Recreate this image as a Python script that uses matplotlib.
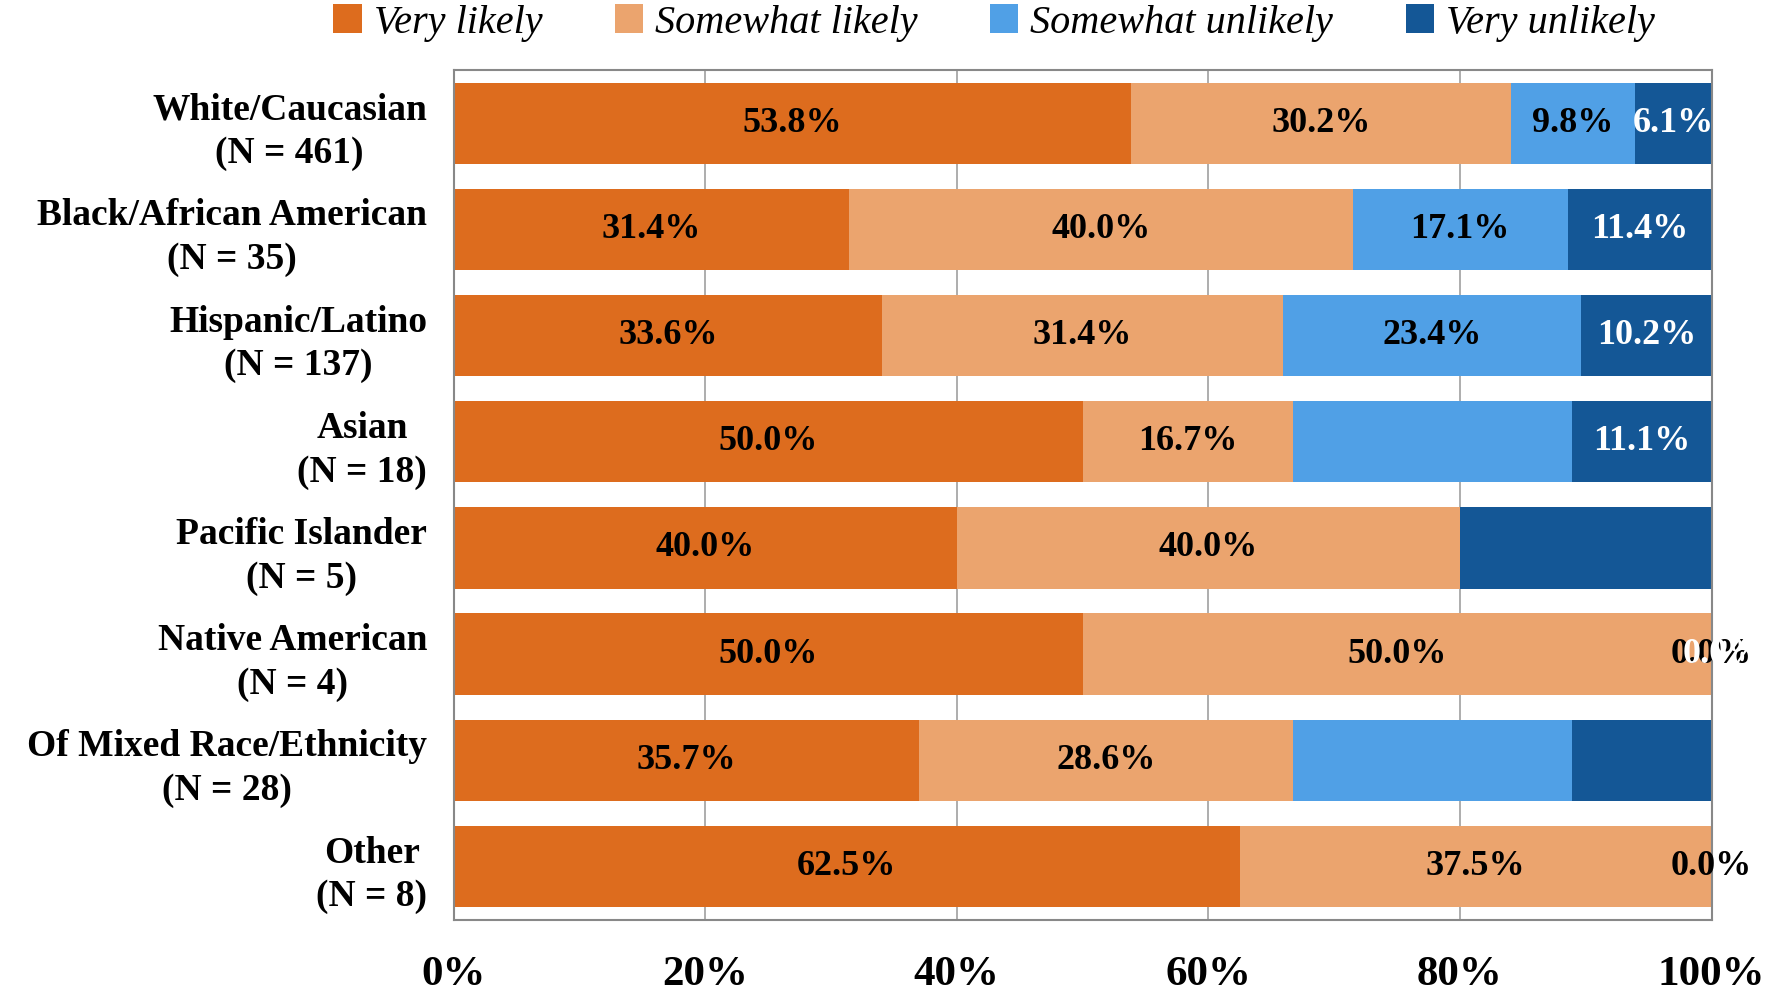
import matplotlib
matplotlib.use("Agg")
import matplotlib.pyplot as plt
import numpy as np

plt.rcParams["font.family"] = ["Liberation Serif", "DejaVu Serif"]

groups = [
    "White/Caucasian\n(N = 461)",
    "Black/African American\n(N = 35)",
    "Hispanic/Latino\n(N = 137)",
    "Asian\n(N = 18)",
    "Pacific Islander\n(N = 5)",
    "Native American\n(N = 4)",
    "Of Mixed Race/Ethnicity\n(N = 28)",
    "Other\n(N = 8)",
]
series = ["Very likely", "Somewhat likely", "Somewhat unlikely", "Very unlikely"]
very_likely = [53.8, 31.4, 33.6, 50.0, 40.0, 50.0, 35.7, 62.5]
somewhat_likely = [30.2, 40.0, 31.4, 16.7, 40.0, 50.0, 28.6, 37.5]
somewhat_unlikely = [9.8, 17.1, 23.4, 22.2, 0.0, 0.0, 21.4, 0.0]
very_unlikely = [6.1, 11.4, 10.2, 11.1, 20.0, 0.0, 10.7, 0.0]

# which data labels Excel actually showed
show_labels = [
    [1, 1, 1, 1, 1, 1, 1, 1],
    [1, 1, 1, 1, 1, 1, 1, 1],
    [1, 1, 1, 0, 0, 1, 0, 1],
    [1, 1, 1, 1, 0, 1, 0, 0],
]

colors = ["#DD6C1E", "#EBA46E", "#50A0E6", "#145796"]
text_colors = ["black", "black", "black", "white"]

data = np.array([very_likely, somewhat_likely, somewhat_unlikely, very_unlikely])
totals = data.sum(axis=0)
pct = data / totals * 100  # 100% stacked

fig = plt.figure(figsize=(17.69, 9.97), dpi=100)
ax = fig.add_axes([0.2564, 0.0777, 0.7111, 0.852])

y = np.arange(len(groups))
left = np.zeros(len(groups))
for i, name in enumerate(series):
    ax.barh(y, pct[i], left=left, height=0.765, color=colors[i], label=name, zorder=2)
    for j in range(len(groups)):
        if show_labels[i][j]:
            xc = left[j] + pct[i][j] / 2
            if pct[i][j] == 0 and i == 3:
                xc += 0.9
            ax.text(xc, y[j], f"{data[i][j]:.1f}%", ha="center", va="center",
                    color=text_colors[i], fontsize=26, fontweight="bold", zorder=3)
    left += pct[i]

ax.set_xlim(0, 100)
ax.set_ylim(len(groups) - 0.5, -0.5)
ax.set_yticks(y)
ax.set_yticklabels(groups, fontsize=27, fontweight="bold", linespacing=1.32,
                   multialignment="center")
ax.set_xticks(np.arange(0, 101, 20))
ax.set_xticklabels([f"{v}%" for v in range(0, 101, 20)], fontsize=31, fontweight="bold")
ax.tick_params(axis="both", length=0)
ax.tick_params(axis="x", pad=26)
ax.tick_params(axis="y", pad=19)
ax.grid(axis="x", color="#A0A0A0", linewidth=1.2, zorder=0)
for s in ax.spines.values():
    s.set_color("#888888")
    s.set_linewidth(1.5)

fig.legend(loc="upper center", bbox_to_anchor=(0.562, 1.032), ncol=4, frameon=False,
           prop={"size": 29, "style": "italic", "family": "Liberation Serif"},
           handlelength=0.7, handleheight=0.7, handletextpad=0.3, columnspacing=1.8)

fig.savefig("out.png", dpi=100)
